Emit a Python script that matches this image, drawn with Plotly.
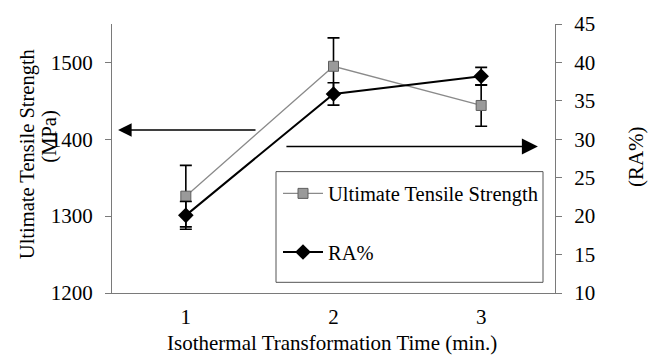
import plotly.graph_objects as go

# Isothermal transformation time (min.)
time_min = [1, 2, 3]
tick_text = ["1", "2", "3"]
cell_edges = [1.5, 2.5]

# Ultimate tensile strength (MPa) with error
uts = [1326, 1495, 1444]
uts_err = [40, 37, 27]

# Reduction of area (%) with error
ra = [20.1, 35.9, 38.2]
ra_err = [1.8, 1.45, 1.15]

FONT = "'Liberation Serif', 'Times New Roman', Times, serif"
AXIS_COLOR = "#7a7a7a"
FS = 21

fig = go.Figure()

fig.add_trace(go.Scatter(
    x=time_min, y=uts, name="Ultimate Tensile Strength",
    mode="lines+markers",
    line=dict(color="#8a8a8a", width=1.3),
    marker=dict(symbol="square", size=10, color="#9a9a9a",
                line=dict(color="#5e5e5e", width=1)),
    error_y=dict(type="data", array=uts_err, color="black",
                 thickness=1.6, width=6),
    legendgroup="a", yaxis="y",
))

fig.add_trace(go.Scatter(
    x=time_min, y=ra, name="RA%",
    mode="lines+markers",
    line=dict(color="black", width=2),
    marker=dict(symbol="diamond", size=12, color="black"),
    error_y=dict(type="data", array=ra_err, color="black",
                 thickness=1.6, width=6),
    legendgroup="b", yaxis="y2",
))

x_range = [0.5, 3.5]
y_range = [1200, 1550]
y2_range = [10, 45]

axis_font = dict(family=FONT, size=FS, color="black")

fig.update_layout(
    width=650, height=360,
    margin=dict(l=112, r=95, t=16, b=67),
    paper_bgcolor="white", plot_bgcolor="white",
    font=dict(family=FONT, size=FS, color="black"),
    xaxis=dict(
        range=x_range, tickvals=time_min, ticktext=tick_text,
        ticks="", showgrid=False, zeroline=False,
        showline=True, linecolor=AXIS_COLOR, linewidth=1,
        tickfont=axis_font, ticklabelstandoff=5,
    ),
    xaxis2=dict(
        overlaying="x", anchor="y", side="bottom", range=x_range,
        tickvals=cell_edges, ticks="outside", ticklen=5,
        tickcolor=AXIS_COLOR, showticklabels=False, showgrid=False,
        zeroline=False, showline=False,
    ),
    xaxis3=dict(
        overlaying="x", anchor="y", side="bottom", range=x_range,
        tickvals=cell_edges, ticks="inside", ticklen=8,
        tickcolor=AXIS_COLOR, showticklabels=False, showgrid=False,
        zeroline=False, showline=False,
    ),
    yaxis=dict(
        range=y_range, tickvals=[1200, 1300, 1400, 1500],
        ticks="outside", ticklen=6, tickcolor=AXIS_COLOR,
        showgrid=False, zeroline=False,
        showline=True, linecolor=AXIS_COLOR, linewidth=1,
        tickfont=axis_font, ticklabelstandoff=8,
    ),
    yaxis3=dict(
        overlaying="y", anchor="x", side="left", range=y_range,
        tickvals=[1200, 1300, 1400, 1500], ticks="inside", ticklen=6,
        tickcolor=AXIS_COLOR, showticklabels=False, showgrid=False,
        zeroline=False, showline=False,
    ),
    yaxis2=dict(
        overlaying="y", side="right", anchor="x", range=y2_range,
        tickvals=[10, 15, 20, 25, 30, 35, 40, 45],
        ticks="outside", ticklen=6, tickcolor=AXIS_COLOR,
        showgrid=False, zeroline=False,
        showline=True, linecolor=AXIS_COLOR, linewidth=1,
        tickfont=axis_font, ticklabelstandoff=8,
    ),
    yaxis4=dict(
        overlaying="y", side="right", anchor="x", range=y2_range,
        tickvals=[10, 15, 20, 25, 30, 35, 40, 45],
        ticks="inside", ticklen=6, tickcolor=AXIS_COLOR,
        showticklabels=False, showgrid=False, zeroline=False, showline=False,
    ),
    legend=dict(
        x=(278 - 112) / 443, y=(293 - 170) / 277,
        xanchor="left", yanchor="top",
        bgcolor="rgba(0,0,0,0)", borderwidth=0,
        font=dict(family=FONT, size=20.5, color="black"),
        traceorder="grouped", tracegroupgap=29, itemwidth=40,
    ),
    showlegend=True,
)

# Legend frame
fig.add_shape(
    type="rect", xref="paper", yref="paper",
    x0=(276 - 112) / 443, x1=(543 - 112) / 443,
    y0=(293 - 282) / 277, y1=(293 - 168) / 277,
    fillcolor="white", line=dict(color="#555555", width=1), layer="above",
)

# Axis titles
fig.add_annotation(
    text="Ultimate Tensile Strength", xref="paper", yref="paper",
    x=(27 - 112) / 443, y=(293 - 150) / 277, textangle=-90,
    showarrow=False, font=dict(family=FONT, size=20.5, color="black"),
    xanchor="center", yanchor="middle",
)
fig.add_annotation(
    text="(MPa)", xref="paper", yref="paper",
    x=(50 - 112) / 443, y=(293 - 132) / 277, textangle=-90,
    showarrow=False, font=dict(family=FONT, size=20.5, color="black"),
    xanchor="center", yanchor="middle",
)
fig.add_annotation(
    text="(RA%)", xref="paper", yref="paper",
    x=(636 - 112) / 443, y=(293 - 153) / 277, textangle=-90,
    showarrow=False, font=axis_font, xanchor="center", yanchor="middle",
)
fig.add_annotation(
    text="Isothermal Transformation Time (min.)", xref="paper", yref="paper",
    x=(332 - 112) / 443, y=(293 - 345) / 277,
    showarrow=False, font=axis_font, xanchor="center", yanchor="middle",
)

# Arrows pointing each curve to its axis
fig.add_annotation(
    x=0.541, y=1412, ax=1.482, ay=1412, xref="x", yref="y",
    axref="x", ayref="y", text="", showarrow=True,
    arrowhead=2, arrowsize=1.7, arrowwidth=1.6, arrowcolor="black",
)
fig.add_annotation(
    x=3.384, y=29.07, ax=1.671, ay=29.07, xref="x", yref="y2",
    axref="x", ayref="y2", text="", showarrow=True,
    arrowhead=2, arrowsize=2, arrowwidth=1.6, arrowcolor="black",
)

fig.write_html("out.html")
